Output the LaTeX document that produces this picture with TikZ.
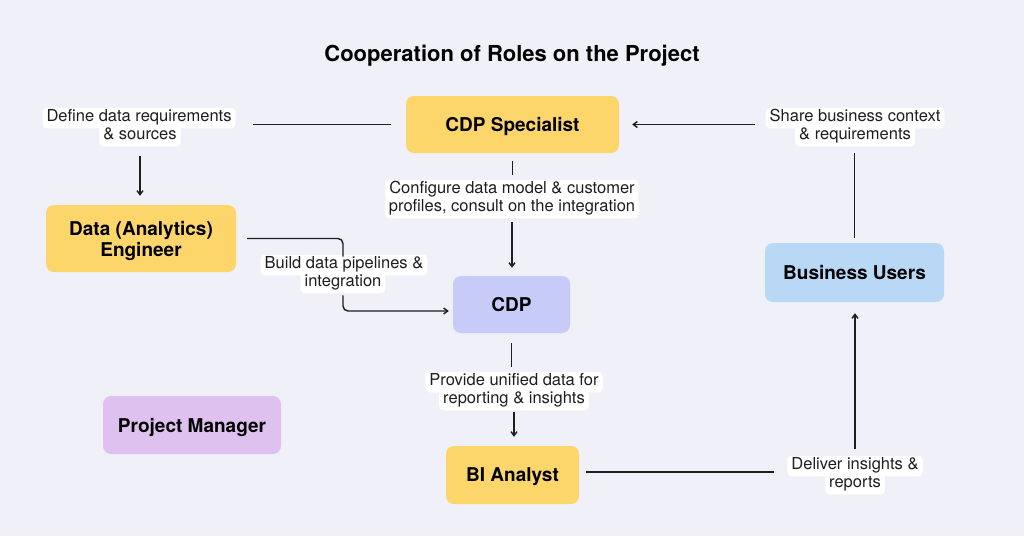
\documentclass[tikz,border=0pt]{standalone}
\usepackage{fontspec}
\setmainfont{TeX Gyre Heros}
\usetikzlibrary{arrows.meta}
\definecolor{bg}{HTML}{F0F0F8}
\definecolor{ylw}{HTML}{FCD56B}
\definecolor{cdpc}{HTML}{C7CBF8}
\definecolor{buc}{HTML}{B9D8F6}
\definecolor{pmc}{HTML}{DEC1EE}
\definecolor{ink}{HTML}{1E1E1E}
\begin{document}
\begin{tikzpicture}[x=1pt,y=-1pt,
  role/.style={rounded corners=8pt, inner sep=0pt, align=center, text=black,
    text depth=0pt, font=\fontsize{19}{21}\selectfont\bfseries},
  lbl/.style={fill=white, rounded corners=4pt, inner xsep=4pt, inner ysep=2pt,
    text height=12pt, text depth=4.5pt, text=ink,
    font=\fontsize{16.5}{18}\selectfont},
  line/.style={draw=ink, line width=1.4pt},
  arr/.style={line, -{Straight Barb[length=4pt,width=6pt]}}
]
\useasboundingbox (0,0) rectangle (1024,536);
\fill[bg] (0,0) rectangle (1024,536);

\node[font=\fontsize{22}{26}\selectfont\bfseries, text=black] (title) at (512,56) {Cooperation of Roles on the Project};

% roles
\node[role, fill=ylw, minimum width=213pt, minimum height=57pt] (spec) at (512.5,124.5) {CDP Specialist};
\node[role, fill=ylw, minimum width=190pt, minimum height=67pt] (eng) at (141,238.5) {Data (Analytics)\\Engineer};
\node[role, fill=cdpc, minimum width=117pt, minimum height=57pt] (cdp) at (511.5,304.5) {CDP};
\node[role, fill=buc, minimum width=179pt, minimum height=59pt] (bu) at (854.5,272.5) {Business Users};
\node[role, fill=pmc, minimum width=178pt, minimum height=58pt] (pm) at (192,425) {Project Manager};
\node[role, fill=ylw, minimum width=133pt, minimum height=58pt] (bi) at (512.5,475) {BI Analyst};

% labels
\node[lbl] (def1) at (139,118) {Define data requirements};
\node[lbl] (def2) at (140,136) {\& sources};
\node[lbl] (sh1) at (855,118) {Share business context};
\node[lbl] (sh2) at (855,136) {\& requirements};
\node[lbl] (cf1) at (512,190) {Configure data model \& customer};
\node[lbl] (cf2) at (512,208) {profiles, consult on the integration};
\node[lbl] (bd1) at (344,265) {Build data pipelines \&};
\node[lbl] (bd2) at (343,283) {integration};
\node[lbl] (pr1) at (514,382) {Provide unified data for};
\node[lbl] (pr2) at (514,400) {reporting \& insights};
\node[lbl] (dl1) at (855,466) {Deliver insights \&};
\node[lbl] (dl2) at (855,484) {reports};

% connectors
\draw[line, shorten <=15pt, shorten >=17pt] (spec.west) -- (spec.west -| def1.east);
\draw[arr, shorten <=10pt, shorten >=9pt] (def2.south) -- (def2.south |- eng.north);

\draw[arr, shorten <=10pt, shorten >=13pt] (spec.east -| sh1.west) -- (spec.east);
\draw[line, shorten <=5pt, shorten >=7pt] (bu.north) -- (bu.north |- sh2.south);

\draw[line, shorten <=8pt, shorten >=5pt] (spec.south) -- (spec.south |- cf1.north);
\draw[arr, shorten <=4pt, shorten >=8pt] (cf2.south) -- (cf2.south |- cdp.north);

\draw[line, rounded corners=5pt] ([xshift=11pt]eng.east) -| ([yshift=-2pt]bd2.north |- bd1.north);
\draw[arr, rounded corners=5pt, shorten >=4pt] ([yshift=-2pt]bd2.south) |- ([yshift=-6.5pt]cdp.west);

\draw[line, shorten <=10pt, shorten >=5pt] (cdp.south) -- (cdp.south |- pr1.north);
\draw[arr, shorten <=2pt, shorten >=9pt] (pr2.south) -- (pr2.south |- bi.north);

\draw[line, shorten <=7pt, shorten >=13pt] ([yshift=3pt]bi.east) -- ([yshift=3pt]bi.east -| dl1.west);
\draw[arr, shorten <=7pt, shorten >=11pt] (dl1.north) -- (dl1.north |- bu.south);
\end{tikzpicture}
\end{document}
